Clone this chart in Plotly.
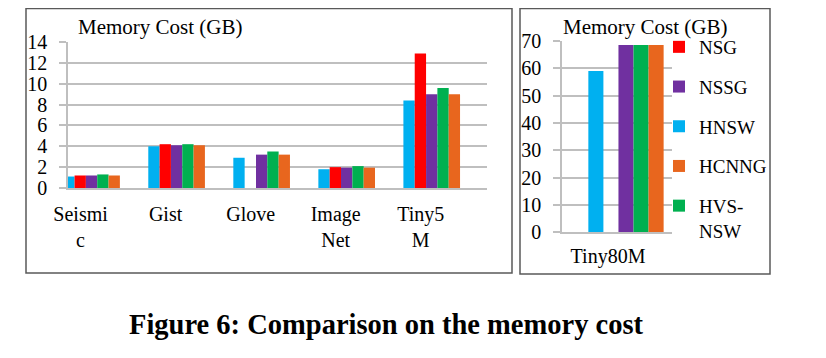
import plotly.graph_objects as go

# ---------------- data ----------------
categories = ["Seismi<br>c", "Gist", "Glove", "Image<br>Net", "Tiny5<br>M"]
big_category = ["Tiny80M"]

series = ["HNSW", "NSG", "NSSG", "HVS-NSW", "HCNNG"]
legend_names = ["HNSW", "NSG", "NSSG", "HVS-<br>NSW", "HCNNG"]
legend_rank = [3, 1, 2, 5, 4]
colors = ["#00b0f0", "#ff0000", "#7030a0", "#00b050", "#e8661e"]

hnsw = [1.1, 4.0, 2.9, 1.8, 8.4]
nsg = [1.2, 4.2, None, 2.0, 12.9]
nssg = [1.2, 4.1, 3.2, 1.95, 9.0]
hvs_nsw = [1.3, 4.2, 3.5, 2.1, 9.6]
hcnng = [1.2, 4.1, 3.2, 1.95, 9.0]

tiny80m_hnsw = [59.0]
tiny80m_nsg = [None]
tiny80m_nssg = [68.5]
tiny80m_hvs_nsw = [68.5]
tiny80m_hcnng = [68.5]

left_ticks = [0, 2, 4, 6, 8, 10, 12, 14]
right_ticks = [0, 10, 20, 30, 40, 50, 60, 70]

y_title = "Memory Cost (GB)"
caption = "<b>Figure 6: Comparison on the memory cost</b>"

# ---------------- layout helpers ----------------
# the page body has an 8px margin, so the figure is sized to fit the window
OFF = 8
W, H = 826 - OFF, 358 - OFF
FONT = "Liberation Serif"
GRID = "#bfbfbf"
BOX = "#595959"


def fx(p):
    return (p - OFF) / W


def fy(p):
    return 1 - (p - OFF) / H


left_vals = [hnsw, nsg, nssg, hvs_nsw, hcnng]
right_vals = [tiny80m_hnsw, tiny80m_nsg, tiny80m_nssg, tiny80m_hvs_nsw, tiny80m_hcnng]

fig = go.Figure()
for name, vals, col in zip(series, left_vals, colors):
    fig.add_trace(go.Bar(x=categories, y=vals, name=name, marker_color=col,
                         marker_line_width=0, showlegend=False,
                         xaxis="x", yaxis="y", legendgroup=name))
for name, lname, rank, vals, col in zip(series, legend_names, legend_rank, right_vals, colors):
    fig.add_trace(go.Bar(x=big_category, y=vals, name=lname, marker_color=col,
                         marker_line_width=0, showlegend=True, legendrank=rank,
                         xaxis="x2", yaxis="y2", legendgroup=name))

axis_common = dict(showgrid=False, showline=True, linecolor=GRID, linewidth=1.5,
                   ticks="", tickfont=dict(family=FONT, size=20, color="black"),
                   fixedrange=True, automargin=False)
yaxis_common = dict(showgrid=True, gridcolor=GRID, gridwidth=2, showline=True,
                    linecolor=GRID, linewidth=1.5, ticks="outside", ticklen=7,
                    tickcolor=GRID, tickwidth=2, zeroline=False,
                    tickfont=dict(family=FONT, size=20, color="black"),
                    ticklabelstandoff=8, fixedrange=True, automargin=False)

fig.update_layout(
    width=W, height=H,
    margin=dict(l=0, r=0, t=0, b=0, pad=0, autoexpand=False),
    paper_bgcolor="white", plot_bgcolor="white",
    font=dict(family=FONT, size=20, color="black"),
    barmode="group",
    bargap=0.334, bargroupgap=0,
    showlegend=True,
    legend=dict(x=fx(659), y=fy(28), xanchor="left", yanchor="top",
                bgcolor="rgba(0,0,0,0)", font=dict(family=FONT, size=19, color="black"),
                tracegroupgap=12, valign="top", traceorder="grouped"),
    xaxis=dict(domain=[fx(68), fx(487)], anchor="y", range=[-0.277, 4.65],
               ticklabelshift=-11, ticklabelstandoff=7, **axis_common),
    yaxis=dict(domain=[fy(188), fy(42)], anchor="x", range=[0, 14],
               tickvals=left_ticks, **yaxis_common),
    xaxis2=dict(domain=[fx(562), fx(672)], anchor="y2", range=[-0.566, 0.407],
                ticklabelshift=-18, ticklabelstandoff=5, **axis_common),
    yaxis2=dict(domain=[fy(232.3), fy(41)], anchor="x2", range=[0, 70],
                tickvals=right_ticks, **yaxis_common),
)

# panel border boxes
fig.add_shape(type="rect", xref="paper", yref="paper", x0=fx(26), x1=fx(512),
              y0=fy(273), y1=fy(8.5), line=dict(color=BOX, width=1.5), layer="above")
fig.add_shape(type="rect", xref="paper", yref="paper", x0=fx(520), x1=fx(770),
              y0=fy(274), y1=fy(8.5), line=dict(color=BOX, width=1.5), layer="above")

# titles and caption
fig.add_annotation(text=y_title, xref="paper", yref="paper", x=fx(160), y=fy(27),
                   xanchor="center", yanchor="middle", showarrow=False,
                   font=dict(family=FONT, size=21, color="black"))
fig.add_annotation(text=y_title, xref="paper", yref="paper", x=fx(645), y=fy(27),
                   xanchor="center", yanchor="middle", showarrow=False,
                   font=dict(family=FONT, size=21, color="black"))
fig.add_annotation(text=caption, xref="paper", yref="paper", x=fx(386), y=fy(324),
                   xanchor="center", yanchor="middle", showarrow=False,
                   font=dict(family=FONT, size=28.5, color="black"))

fig.write_html("out.html")
